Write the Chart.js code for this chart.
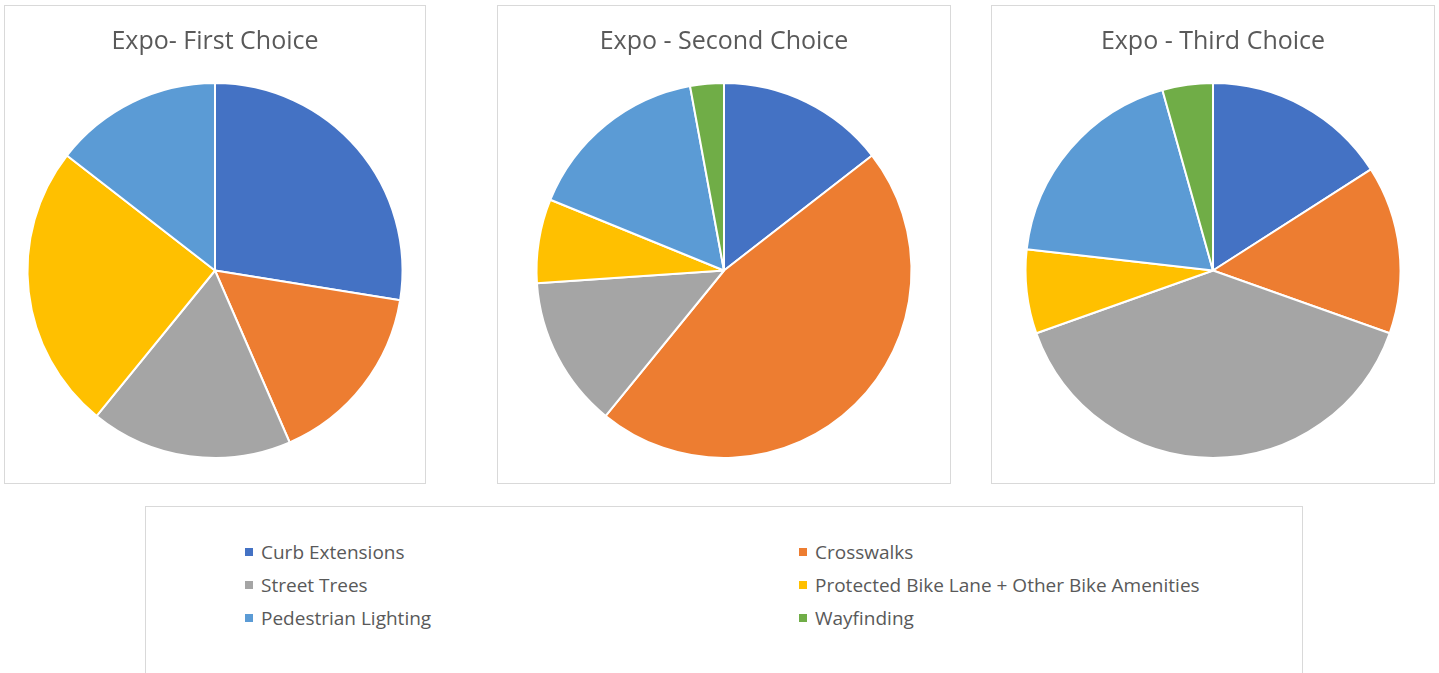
<!DOCTYPE html>
<html>
<head>
<meta charset="utf-8">
<script src="https://cdn.jsdelivr.net/npm/chart.js@4/dist/chart.umd.min.js"></script>
<style>
  body { margin: 0; background: #fff; font-family: "Open Sans", sans-serif; }
  .box { position: absolute; border: 1px solid #d9d9d9; box-sizing: border-box; background: #fff; }
  #legend { position: absolute; left: 145px; top: 506px; width: 1158px; height: 190px; border: 1px solid #d9d9d9; box-sizing: border-box; }
  .item { position: absolute; color: #595959; font-size: 19px; white-space: nowrap; line-height: 22px; }
  .item span { display: inline-block; width: 8px; height: 8px; margin-right: 8px; vertical-align: 3px; }
</style>
</head>
<body>
<div class="box" style="left:4px;top:5px;width:422px;height:479px"><canvas id="c1"></canvas></div>
<div class="box" style="left:497px;top:5px;width:454px;height:479px"><canvas id="c2"></canvas></div>
<div class="box" style="left:991px;top:5px;width:444px;height:479px"><canvas id="c3"></canvas></div>
<div id="legend"></div>
<script>
var labels = ["Curb Extensions", "Crosswalks", "Street Trees", "Protected Bike Lane + Other Bike Amenities", "Pedestrian Lighting", "Wayfinding"];
var colors = ["#4472C4", "#ED7D31", "#A5A5A5", "#FFC000", "#5B9BD5", "#70AD47"];

var titles = ["Expo- First Choice", "Expo - Second Choice", "Expo - Third Choice"];
var firstChoice = [19, 11, 12, 17, 10, 0];
var secondChoice = [10, 32, 9, 5, 11, 2];
var thirdChoice = [11, 10, 27, 5, 13, 3];

function drawPie(id, title, values) {
  var ctx = document.getElementById(id);
  return new Chart(ctx, {
    type: "pie",
    data: {
      labels: labels,
      datasets: [{
        data: values,
        backgroundColor: colors,
        borderColor: "#ffffff",
        borderWidth: 2
      }]
    },
    options: {
      responsive: true,
      maintainAspectRatio: false,
      animation: false,
      layout: { padding: { top: 0, bottom: 24, left: 10, right: 10 } },
      plugins: {
        legend: { display: false },
        tooltip: { enabled: false },
        title: {
          display: true,
          text: title,
          color: "#595959",
          font: { family: "Open Sans", size: 25, weight: "normal" },
          padding: { top: 21, bottom: 25 }
        }
      }
    }
  });
}

drawPie("c1", titles[0], firstChoice);
drawPie("c2", titles[1], secondChoice);
drawPie("c3", titles[2], thirdChoice);

// legend, two columns, row-major like the original
var legend = document.getElementById("legend");
for (var i = 0; i < labels.length; i++) {
  var col = i % 2;
  var row = Math.floor(i / 2);
  var item = document.createElement("div");
  item.className = "item";
  item.style.left = (col === 0 ? 99 : 653) + "px";
  item.style.top = (34 + row * 33) + "px";
  var sw = document.createElement("span");
  sw.style.background = colors[i];
  item.appendChild(sw);
  item.appendChild(document.createTextNode(labels[i]));
  legend.appendChild(item);
}
</script>
</body>
</html>
